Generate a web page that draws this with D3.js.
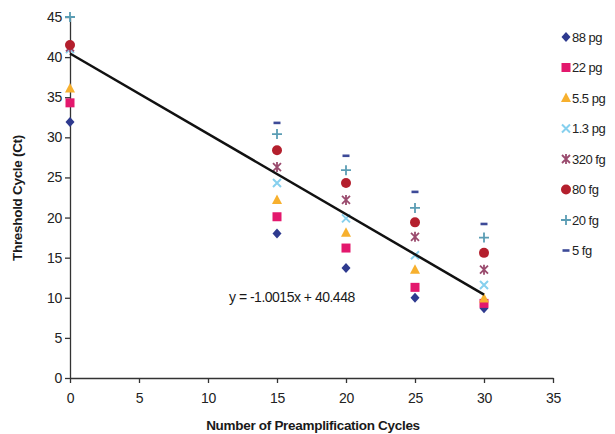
<!DOCTYPE html>
<html>
<head>
<meta charset="utf-8">
<script src="https://cdn.jsdelivr.net/npm/d3@7/dist/d3.min.js"></script>
<style>
  body { margin: 0; background: #fff; }
  svg { font-family: 'Liberation Sans', Arial, sans-serif; }
  .axis path, .axis line { stroke: #333; stroke-width: 1.3; }
  .axis text { fill: #222; font-size: 14px; letter-spacing: -0.3px; }
  .title { fill: #1a1a1a; font-size: 13.5px; font-weight: bold; letter-spacing: -0.3px; }
  .legend text { fill: #222; font-size: 13px; letter-spacing: -0.5px; }
</style>
</head>
<body>
<svg width="615" height="434"></svg>
<script>
(function (d3) {
    'use strict';

    // preamplification cycles
    var cycles = [0, 15, 20, 25, 30];

    // threshold cycles per template amount (null = not shown)
    var ct88pg  = [31.9, 18.0, 13.7, 10.0, 8.7];
    var ct22pg  = [34.3, 20.1, 16.2, 11.3, 9.3];
    var ct5_5pg = [36.1, 22.2, 18.1, 13.5, 9.9];
    var ct1_3pg = [41.0, 24.3, 19.9, 15.3, 11.6];
    var ct320fg = [41.2, 26.3, 22.2, 17.6, 13.5];
    var ct80fg  = [41.5, 28.4, 24.3, 19.4, 15.6];
    var ct20fg  = [45.0, 30.4, 25.9, 21.2, 17.5];
    var ct5fg   = [null, 31.8, 27.7, 23.2, 19.2];

    var seriesNames = ['88 pg', '22 pg', '5.5 pg', '1.3 pg', '320 fg', '80 fg', '20 fg', '5 fg'];
    var seriesValues = [ct88pg, ct22pg, ct5_5pg, ct1_3pg, ct320fg, ct80fg, ct20fg, ct5fg];

    var xTicks = [0, 5, 10, 15, 20, 25, 30, 35];
    var yTicks = [0, 5, 10, 15, 20, 25, 30, 35, 40, 45];

    // linear fit shown on the chart
    var slope = -1.0015, intercept = 40.448;
    var fitRange = [0, 30];

    var styles = {
        '88 pg':  { shape: 'diamond',  color: '#2e3a8f' },
        '22 pg':  { shape: 'square',   color: '#e3186d' },
        '5.5 pg': { shape: 'triangle', color: '#f7b02e' },
        '1.3 pg': { shape: 'cross',    color: '#86d0ee' },
        '320 fg': { shape: 'star',     color: '#9a4b6e' },
        '80 fg':  { shape: 'circle',   color: '#b41f2d' },
        '20 fg':  { shape: 'plus',     color: '#5b9db4' },
        '5 fg':   { shape: 'dash',     color: '#3d4a98' }
    };

    var svg = d3.select('svg');

    var x = d3.scaleLinear().domain([0, 35]).range([70, 553]),
        y = d3.scaleLinear().domain([0, 45]).range([378, 17]);

    function drawMarker(sel, name, cx, cy) {
        var st = styles[name];
        var g = sel.append('g').attr('transform', 'translate(' + cx + ',' + cy + ')');
        if (st.shape === 'diamond') {
            g.append('path').attr('d', 'M0,-5L4.5,0L0,5L-4.5,0Z').attr('fill', st.color);
        } else if (st.shape === 'square') {
            g.append('rect').attr('x', -4.5).attr('y', -4.5).attr('width', 9).attr('height', 9).attr('fill', st.color);
        } else if (st.shape === 'triangle') {
            g.append('path').attr('d', 'M0,-5.5L5,4L-5,4Z').attr('fill', st.color);
        } else if (st.shape === 'circle') {
            g.append('circle').attr('r', 5).attr('fill', st.color);
        } else if (st.shape === 'cross') {
            g.append('path').attr('d', 'M-4,-4L4,4M4,-4L-4,4').attr('stroke', st.color).attr('stroke-width', 2);
        } else if (st.shape === 'star') {
            g.append('path').attr('d', 'M-4,-4L4,4M4,-4L-4,4M0,-5V5').attr('stroke', st.color).attr('stroke-width', 1.8);
        } else if (st.shape === 'plus') {
            g.append('path').attr('d', 'M-5,0H5M0,-5V5').attr('stroke', st.color).attr('stroke-width', 1.8);
        } else if (st.shape === 'dash') {
            g.append('path').attr('d', 'M-3.5,0H3.5').attr('stroke', st.color).attr('stroke-width', 2.6);
        }
    }

    // axes
    svg.append('g')
        .attr('class', 'axis')
        .attr('transform', 'translate(0,' + y(0) + ')')
        .call(d3.axisBottom(x).tickValues(xTicks).tickSize(5).tickSizeOuter(0).tickPadding(10));

    svg.append('g')
        .attr('class', 'axis')
        .attr('transform', 'translate(' + x(0) + ',0)')
        .call(d3.axisLeft(y).tickValues(yTicks).tickSize(5).tickSizeOuter(0).tickPadding(3));

    svg.selectAll('.axis .domain').attr('stroke', '#333');

    // points
    var pts = svg.append('g');
    seriesNames.forEach(function (name, s) {
        seriesValues[s].forEach(function (v, i) {
            if (v === null) return;
            drawMarker(pts, name, x(cycles[i]), y(v));
        });
    });

    // trend line
    svg.append('line')
        .attr('x1', x(fitRange[0])).attr('y1', y(slope * fitRange[0] + intercept))
        .attr('x2', x(fitRange[1])).attr('y2', y(slope * fitRange[1] + intercept))
        .attr('stroke', '#111').attr('stroke-width', 2.5);

    svg.append('text')
        .attr('x', 229).attr('y', 302)
        .attr('fill', '#1a1a1a').style('font-size', '14px').style('letter-spacing', '-0.5px')
        .text('y = ' + slope + 'x + ' + intercept);

    // axis titles
    svg.append('text')
        .attr('class', 'title')
        .attr('x', 313).attr('y', 430)
        .attr('text-anchor', 'middle')
        .text('Number of Preamplification Cycles');

    svg.append('text')
        .attr('class', 'title')
        .attr('transform', 'translate(22,198) rotate(-90)')
        .attr('text-anchor', 'middle')
        .text('Threshold Cycle (Ct)');

    // legend
    var legend = svg.selectAll('.legend')
        .data(seriesNames)
        .enter().append('g')
        .attr('class', 'legend')
        .attr('transform', function (d, i) { return 'translate(566,' + (37 + i * 30.5) + ')'; });

    legend.each(function (d) { drawMarker(d3.select(this), d, 0, 0); });

    legend.append('text')
        .attr('x', 6)
        .attr('y', 4.5)
        .text(function (d) { return d; });
})(window.d3);
</script>
</body>
</html>
